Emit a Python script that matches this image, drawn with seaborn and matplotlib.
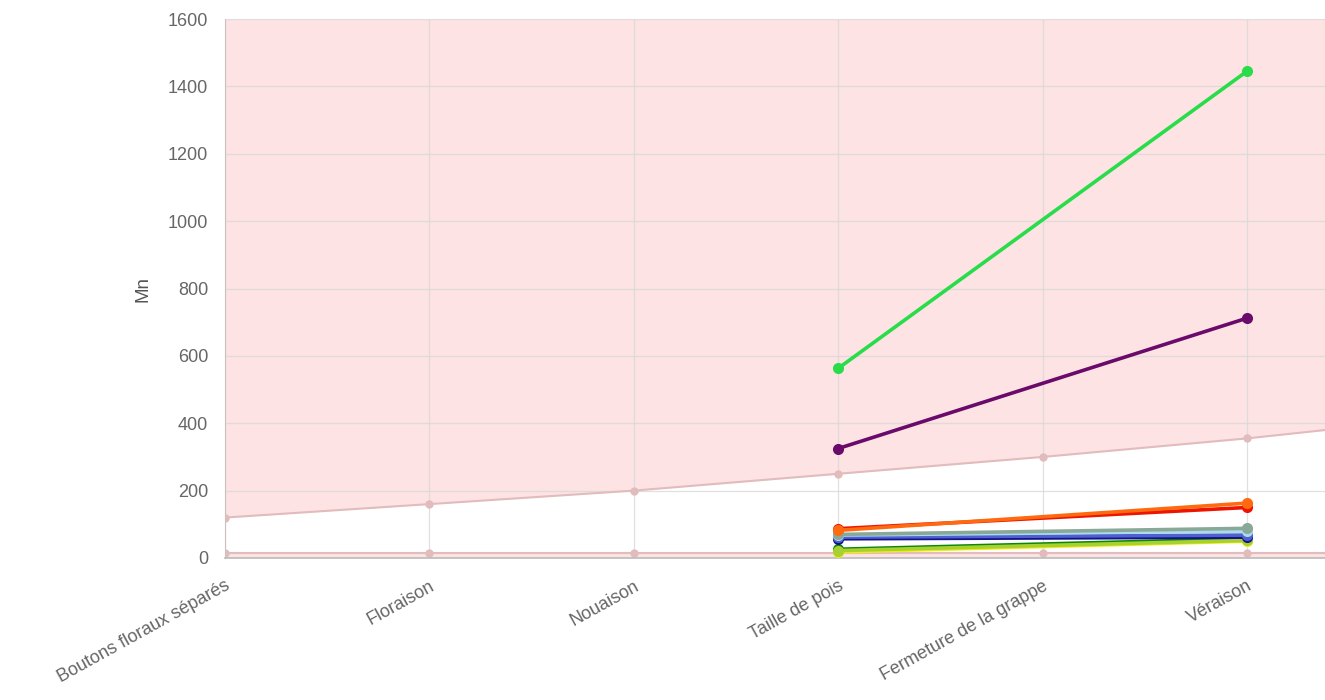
import numpy as np
import pandas as pd
import seaborn as sns
import matplotlib
matplotlib.use("Agg")
import matplotlib.pyplot as plt

# stades phenologiques (le dernier est hors cadre, a droite)
stades = ["Boutons floraux séparés", "Floraison", "Nouaison", "Taille de pois",
          "Fermeture de la grappe", "Véraison", "Maturité"]

# bornes de la zone normale
borne_haute = [120, 160, 200, 250, 300, 355, 420]
borne_basse = [15, 15, 15, 15, 15, 15, 15]

# series mesurees (seulement Taille de pois et Véraison)
series = ["jaune", "vert foncé", "jaune vert", "bleu marine", "bleu ardoise",
          "bleu clair", "gris vert", "rouge", "orange", "violet", "vert vif"]
couleurs = ["#eeee10", "#0a880a", "#a8d030", "#12128a", "#5060d0",
            "#a8dcea", "#8aa898", "#ee1500", "#ff6a10", "#6a0a6a", "#28dc4a"]
taille_de_pois = [18, 26, 22, 57, 62, 68, 70, 87, 82, 325, 563]
veraison = [50, 57, 52, 62, 68, 80, 88, 150, 163, 712, 1445]

pos = {s: i for i, s in enumerate(stades)}

rows = []
for nom, a, b in zip(series, taille_de_pois, veraison):
    rows.append((nom, "Taille de pois", a))
    rows.append((nom, "Véraison", b))
df = pd.DataFrame(rows, columns=["serie", "stade", "Mn"])
df["x"] = df["stade"].map(pos)

bornes = pd.DataFrame({"x": range(len(stades)), "haute": borne_haute, "basse": borne_basse})

sns.set_style("white")
plt.rcParams["font.family"] = ["Liberation Sans", "DejaVu Sans"]

fig = plt.figure(figsize=(13.25, 7), dpi=100)
ax = fig.add_axes([225 / 1325, 142 / 700, 1100 / 1325, 539 / 700])

rose = "#fde3e4"
ax.fill_between(bornes["x"], bornes["haute"], 1600, color=rose, lw=0, zorder=0)
ax.fill_between(bornes["x"], 0, bornes["basse"], color=rose, lw=0, zorder=0)

for col in ["haute", "basse"]:
    sns.lineplot(data=bornes, x="x", y=col, ax=ax, color="#e2bcbc", lw=1.5,
                 marker="o", markersize=6, markeredgewidth=0, zorder=1)

sns.lineplot(data=df, x="x", y="Mn", hue="serie", hue_order=series,
             palette=dict(zip(series, couleurs)), ax=ax, lw=2.6, marker="o",
             markersize=8, markeredgewidth=0, legend=False, zorder=3)

ax.set_yticks(np.arange(0, 1601, 200))
ax.set_xticks(range(len(stades)))
ax.set_xticklabels(stades, rotation=29, ha="right", rotation_mode="anchor")
ax.set_xlim(0, 1100 / 204.4)
ax.set_ylim(0, 1600)

ax.grid(True, color="#d9d9d9", lw=0.9, alpha=0.8)
ax.set_axisbelow(True)
ax.tick_params(axis="both", length=9, color="#dddddd", labelsize=13,
               labelcolor="#666666", pad=3)
ax.tick_params(axis="x", pad=5)

for s in ["top", "right"]:
    ax.spines[s].set_visible(False)
ax.spines["left"].set_color("#cfc0c0")
ax.spines["bottom"].set_color("#bbbbbb")
ax.spines["bottom"].set_linewidth(1.2)

ax.set_xlabel("")
ax.set_ylabel("Mn", fontsize=13.5, color="#555555", labelpad=12)

fig.savefig("out.png", dpi=100)
